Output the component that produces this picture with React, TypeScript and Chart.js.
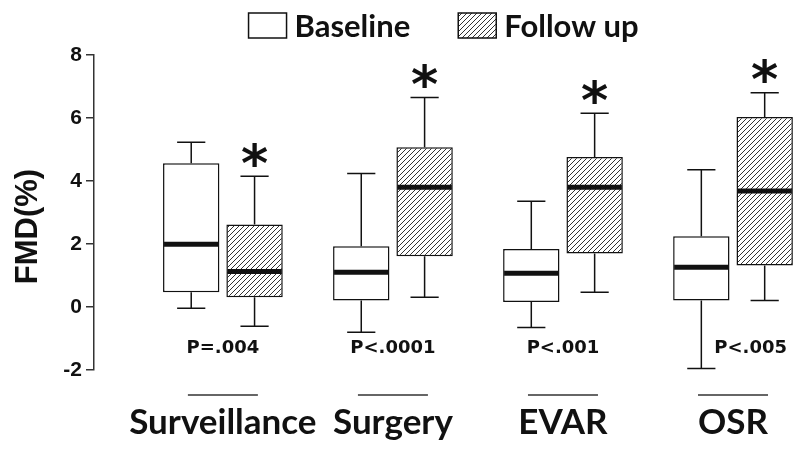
import React, { useEffect, useRef } from 'react';
import { Chart, registerables } from 'chart.js';

Chart.register(...registerables);

const categories = ['Surveillance', 'Surgery', 'EVAR', 'OSR'];
const seriesNames = ['Baseline', 'Follow up'];
const yTicks = [-2, 0, 2, 4, 6, 8];

const baselineMin = [-0.04, -0.8, -0.65, -1.95];
const baselineQ1 = [0.47, 0.21, 0.16, 0.21];
const baselineMedian = [1.99, 1.1, 1.07, 1.26];
const baselineQ3 = [4.56, 1.93, 1.84, 2.25];
const baselineMax = [5.23, 4.24, 3.36, 4.36];

const followMin = [-0.61, 0.31, 0.47, 0.21];
const followQ1 = [0.31, 1.61, 1.7, 1.32];
const followMedian = [1.13, 3.8, 3.8, 3.68];
const followQ3 = [2.62, 5.07, 4.76, 6.03];
const followMax = [4.15, 6.65, 6.15, 6.8];

const pValues = ['P=.004', 'P<.0001', 'P<.001', 'P<.005'];
const significance = ['*', '*', '*', '*'];
const yTitle = 'FMD(%)';

const stats = [
  { min: baselineMin, q1: baselineQ1, med: baselineMedian, q3: baselineQ3, max: baselineMax },
  { min: followMin, q1: followQ1, med: followMedian, q3: followQ3, max: followMax },
];

function makeHatch(): CanvasPattern | string {
  const c = document.createElement('canvas');
  const s = 5;
  c.width = s;
  c.height = s;
  const g = c.getContext('2d');
  if (!g) return '#ccc';
  g.fillStyle = '#ffffff';
  g.fillRect(0, 0, s, s);
  g.strokeStyle = '#333333';
  g.lineWidth = 1;
  g.beginPath();
  g.moveTo(-1, s + 1);
  g.lineTo(s + 1, -1);
  g.moveTo(-1, 1);
  g.lineTo(1, -1);
  g.moveTo(s - 1, s + 1);
  g.lineTo(s + 1, s - 1);
  g.stroke();
  const p = g.createPattern(c, 'repeat');
  return p || '#ccc';
}

export default function App() {
  const ref = useRef<HTMLCanvasElement>(null);

  useEffect(() => {
    const canvas = ref.current;
    if (!canvas) return;
    const hatch = makeHatch();
    const fills = ['#ffffff', hatch];

    const decor = {
      id: 'boxDecor',
      afterDatasetsDraw(chart: any) {
        const ctx = chart.ctx as CanvasRenderingContext2D;
        const ys = chart.scales.y;
        const xs = chart.scales.x;
        const area = chart.chartArea;
        ctx.save();
        // whiskers and medians
        stats.forEach((s, d) => {
          const meta = chart.getDatasetMeta(d);
          meta.data.forEach((el: any, i: number) => {
            const { x, width } = el.getProps(['x', 'width'], true);
            const cap = width * 0.5;
            const yq1 = ys.getPixelForValue(s.q1[i]);
            const yq3 = ys.getPixelForValue(s.q3[i]);
            const yMin = ys.getPixelForValue(s.min[i]);
            const yMax = ys.getPixelForValue(s.max[i]);
            const yMed = ys.getPixelForValue(s.med[i]);
            ctx.strokeStyle = '#111';
            ctx.lineWidth = 1.5;
            ctx.beginPath();
            ctx.moveTo(x, yq3);
            ctx.lineTo(x, yMax);
            ctx.moveTo(x - cap / 2, yMax);
            ctx.lineTo(x + cap / 2, yMax);
            ctx.moveTo(x, yq1);
            ctx.lineTo(x, yMin);
            ctx.moveTo(x - cap / 2, yMin);
            ctx.lineTo(x + cap / 2, yMin);
            ctx.stroke();
            ctx.lineWidth = 5;
            ctx.beginPath();
            ctx.moveTo(x - width / 2 + 1, yMed);
            ctx.lineTo(x + width / 2 - 1, yMed);
            ctx.stroke();
          });
        });

        // significance asterisks above follow-up
        const fMeta = chart.getDatasetMeta(1);
        ctx.fillStyle = '#111';
        ctx.font = 'bold 52px "DejaVu Sans"';
        ctx.textAlign = 'center';
        ctx.textBaseline = 'alphabetic';
        fMeta.data.forEach((el: any, i: number) => {
          const sym = significance[i];
          if (!sym) return;
          const { x } = el.getProps(['x'], true);
          const m = ctx.measureText(sym);
          const cy = ys.getPixelForValue(followMax[i]) - 22;
          const base = cy + (m.actualBoundingBoxAscent - m.actualBoundingBoxDescent) / 2;
          ctx.fillText(sym, x, base);
        });

        // p-values
        const bMeta = chart.getDatasetMeta(0);
        ctx.font = 'bold 18px "DejaVu Sans"';
        ctx.textBaseline = 'middle';
        const pY = area.bottom - 22;
        pValues.forEach((txt, i) => {
          const cx = xs.getPixelForValue(i);
          const w = ctx.measureText(txt).width;
          const bx = bMeta.data[i].x;
          const whiskerBottom = ys.getPixelForValue(baselineMin[i]);
          let left = cx - w / 2;
          if (whiskerBottom > pY - 8 && left < bx + 12) left = bx + 13;
          ctx.textAlign = 'left';
          ctx.fillText(txt, left, pY);
        });

        // underlines below axis
        ctx.strokeStyle = '#666';
        ctx.lineWidth = 2;
        categories.forEach((_, i) => {
          const cx = xs.getPixelForValue(i);
          ctx.beginPath();
          ctx.moveTo(cx - 35, area.bottom + 25);
          ctx.lineTo(cx + 35, area.bottom + 25);
          ctx.stroke();
        });

        // y title
        ctx.save();
        ctx.font = 'bold 31px "Liberation Sans"';
        ctx.fillStyle = '#111';
        ctx.textAlign = 'center';
        ctx.textBaseline = 'alphabetic';
        ctx.translate(37, (area.top + area.bottom) / 2 + 14);
        ctx.rotate(-Math.PI / 2);
        ctx.fillText(yTitle, 0, 0);
        ctx.restore();

        // legend
        ctx.font = 'bold 31px Lato';
        ctx.textAlign = 'left';
        ctx.textBaseline = 'alphabetic';
        const boxW = 38;
        const boxH = 25;
        const gapBoxText = 8;
        const gapItems = 48;
        const widths = seriesNames.map((n) => ctx.measureText(n).width);
        const total = widths.reduce((a, w) => a + boxW + gapBoxText + w, 0) + gapItems * (seriesNames.length - 1);
        let lx = (area.left + area.right) / 2 - total / 2;
        const top = 13;
        seriesNames.forEach((n, i) => {
          ctx.fillStyle = fills[i] as any;
          ctx.fillRect(lx, top, boxW, boxH);
          ctx.strokeStyle = '#111';
          ctx.lineWidth = 1.5;
          ctx.strokeRect(lx, top, boxW, boxH);
          ctx.fillStyle = '#111';
          ctx.fillText(n, lx + boxW + gapBoxText, top + 24);
          lx += boxW + gapBoxText + widths[i] + gapItems;
        });
        ctx.restore();
      },
    };

    const datasets = seriesNames.map((name, d) => ({
      label: name,
      data: categories.map((_, i) => ({ x: i, y: [stats[d].q1[i], stats[d].q3[i]] })),
      backgroundColor: fills[d] as any,
      borderColor: '#111',
      borderWidth: 1.5,
      borderSkipped: false,
      categoryPercentage: 0.745,
      barPercentage: 0.89,
    }));

    const chart = new Chart(canvas, {
      type: 'bar',
      data: { datasets: datasets as any },
      options: {
        responsive: false,
        animation: false,
        devicePixelRatio: 1,
        layout: { padding: { top: 55, right: 0, bottom: 0, left: 0 } },
        plugins: {
          legend: { display: false },
          tooltip: { enabled: false },
          title: { display: false },
        },
        scales: {
          x: {
            type: 'linear',
            min: -0.758,
            max: 3.354,
            offset: false,
            grid: { display: false, drawTicks: false },
            border: { display: false },
            afterBuildTicks: (scale: any) => {
              scale.ticks = categories.map((_, i) => ({ value: i }));
            },
            afterFit: (scale: any) => {
              scale.height = 84;
            },
            ticks: {
              autoSkip: false,
              maxRotation: 0,
              minRotation: 0,
              padding: 32,
              color: '#111',
              font: { family: 'Lato', weight: 'bold', size: 35 },
              callback: (v: any) => categories[Math.round(Number(v))] ?? '',
            },
          },
          y: {
            type: 'linear',
            min: -2,
            max: 8,
            afterBuildTicks: (scale: any) => {
              scale.ticks = yTicks.map((v) => ({ value: v }));
            },
            afterFit: (scale: any) => {
              scale.width = 94;
            },
            grid: {
              drawOnChartArea: false,
              drawTicks: true,
              tickLength: 8,
              tickColor: '#333',
              lineWidth: 1.5,
            },
            border: { display: true, color: '#333', width: 1.5 },
            ticks: {
              padding: 4,
              color: '#111',
              font: { family: 'Liberation Sans', weight: 'bold', size: 21 },
            },
          },
        },
      } as any,
      plugins: [decor],
    });

    return () => chart.destroy();
  }, []);

  return (
    <div style={{ position: 'fixed', left: 0, top: 0, width: 800, height: 454, background: '#fff' }}>
      <canvas ref={ref} width={800} height={454} />
    </div>
  );
}
